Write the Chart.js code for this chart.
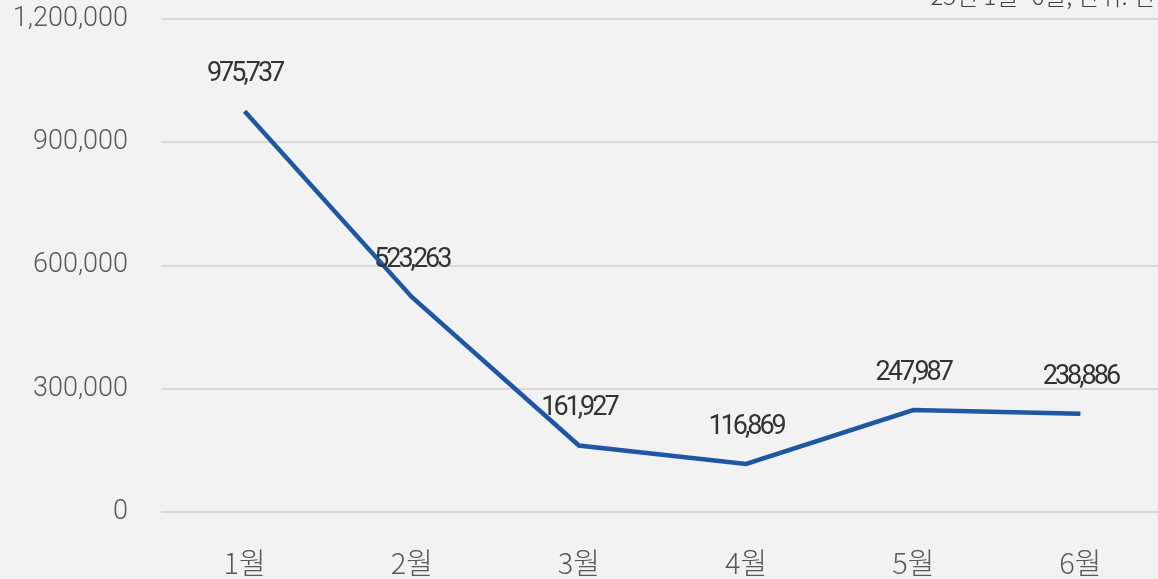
<!DOCTYPE html>
<html>
<head>
<meta charset="utf-8">
<script src="https://cdn.jsdelivr.net/npm/chart.js@4"></script>
<style>
  html, body { margin: 0; padding: 0; background: #f2f2f2; overflow: hidden; }
  #wrap { width: 1164px; height: 579px; }
</style>
</head>
<body>
<div id="wrap"><canvas id="chart"></canvas></div>
<script>
// 월별 건수
const months = ['1월', '2월', '3월', '4월', '5월', '6월'];
const counts = [975737, 523263, 161927, 116869, 247987, 238886];
const yTicks = [0, 300000, 600000, 900000, 1200000];
const note = "'25년 1월~6월, 단위: 건";

const fmt = v => v.toLocaleString('en-US');

// 점 위에 값 표시
const valueLabels = {
    id: 'valueLabels',
    afterDatasetsDraw(chart) {
        const ctx = chart.ctx;
        const meta = chart.getDatasetMeta(0);
        ctx.save();
        ctx.font = '400 27px Roboto';
        ctx.letterSpacing = '-3px';
        ctx.fillStyle = '#333333';
        ctx.textAlign = 'center';
        ctx.textBaseline = 'middle';
        meta.data.forEach((pt, i) => {
            ctx.fillText(fmt(counts[i]), pt.x, pt.y - 37);
        });
        ctx.restore();
    }
};

// 오른쪽 위 메모 (잘려 보임)
const noteText = {
    id: 'noteText',
    afterDraw(chart) {
        const ctx = chart.ctx;
        ctx.save();
        ctx.font = '300 24px "Noto Sans CJK KR"';
        ctx.fillStyle = '#404040';
        ctx.textAlign = 'right';
        ctx.textBaseline = 'alphabetic';
        ctx.fillText(note, 1155, 5);
        ctx.restore();
    }
};

const ctx = document.getElementById('chart').getContext('2d');
new Chart(ctx, {
    type: 'line',
    data: {
        labels: months,
        datasets: [{
            data: counts,
            borderColor: '#1f57a3',
            borderWidth: 4.5,
            pointRadius: 0,
            tension: 0,
            fill: false
        }]
    },
    options: {
        responsive: true,
        maintainAspectRatio: false,
        animation: false,
        layout: { padding: { top: 19, left: 0, right: 0, bottom: 0 } },
        plugins: { legend: { display: false }, tooltip: { enabled: false } },
        scales: {
            x: {
                offset: true,
                grid: { display: false },
                border: { display: false },
                afterFit(axis) { axis.height = 67; axis.paddingLeft = 0; axis.paddingRight = 0; },
                ticks: {
                    color: '#595959',
                    font: { family: '"Noto Sans CJK KR"', size: 29, weight: 300 },
                    maxRotation: 0,
                    autoSkip: false,
                    padding: 26
                }
            },
            y: {
                min: 0,
                max: 1200000,
                afterBuildTicks(axis) { axis.ticks = yTicks.map(v => ({ value: v })); },
                afterFit(axis) { axis.width = 161; axis.paddingTop = 0; axis.paddingBottom = 0; },
                grid: { color: '#d9d9d9', lineWidth: 2, drawTicks: false },
                border: { display: false },
                ticks: {
                    color: '#595959',
                    font: { family: 'Roboto', size: 27, weight: 300 },
                    padding: 33,
                    callback: v => fmt(v)
                }
            }
        }
    },
    plugins: [valueLabels, noteText]
});
</script>
</body>
</html>
